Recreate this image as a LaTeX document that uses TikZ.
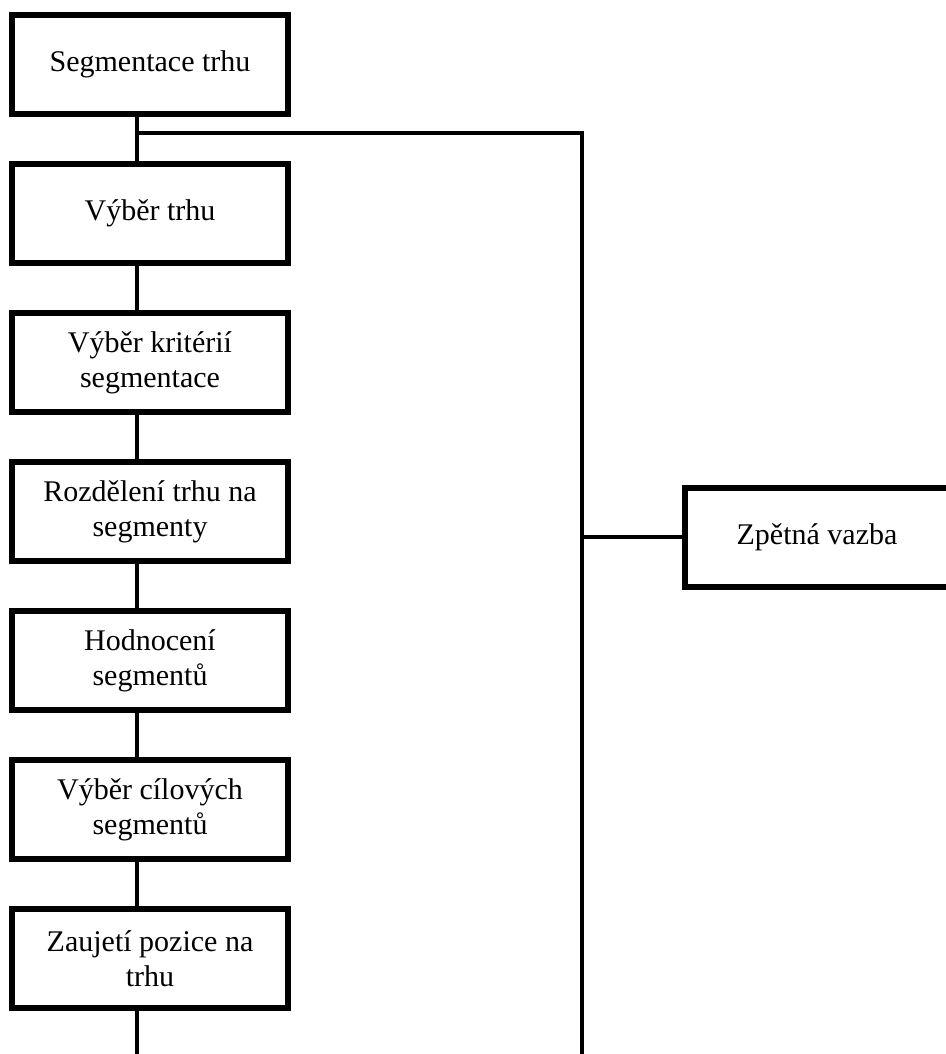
\documentclass[tikz,border=0pt]{standalone}
\usepackage{fontspec}
\setmainfont{Liberation Serif}
\usetikzlibrary{positioning}

\begin{document}
\begin{tikzpicture}[
x=0.75pt, y=-0.75pt,
node distance=33pt,
box/.style={draw, line width=4.5pt, align=center, font=\fontsize{22.5}{26.5}\selectfont, minimum width=207pt, minimum height=74.25pt, inner sep=0pt},
fbbox/.style={box, minimum width=198pt},
conn/.style={line width=2.6pt}
]
\useasboundingbox (0,0) rectangle (946,1054);
\node[box, anchor=north west] (seg) at (9,12) {Segmentace trhu};
\node[box, below=of seg] (vybtrh) {Výběr trhu};
\node[box, below=of vybtrh] (krit) {Výběr kritérií\\ segmentace};
\node[box, below=of krit] (rozd) {Rozdělení trhu na\\ segmenty};
\node[box, below=of rozd] (hodn) {Hodnocení\\ segmentů};
\node[box, below=of hodn] (cil) {Výběr cílových\\ segmentů};
\node[box, below=of cil] (pozice) {Zaujetí pozice na\\ trhu};
\node[fbbox, anchor=west] (zpvazba) at (682,537) {Zpětná vazba};
\coordinate (spine) at (137,0);
\coordinate (fb) at (582,133);
\coordinate (bottom) at (582,1054);
\foreach \a/\b in {seg/vybtrh, vybtrh/krit, krit/rozd, rozd/hodn, hodn/cil, cil/pozice}
  \draw[conn] (\a.south -| spine) -- (\b.north -| spine);
\draw[conn] (pozice.south -| spine) -- (spine |- bottom);
\draw[conn] (spine |- fb) -- (fb) -- (bottom);
\draw[conn] (fb |- zpvazba) -- (zpvazba.west);
\end{tikzpicture}
\end{document}
